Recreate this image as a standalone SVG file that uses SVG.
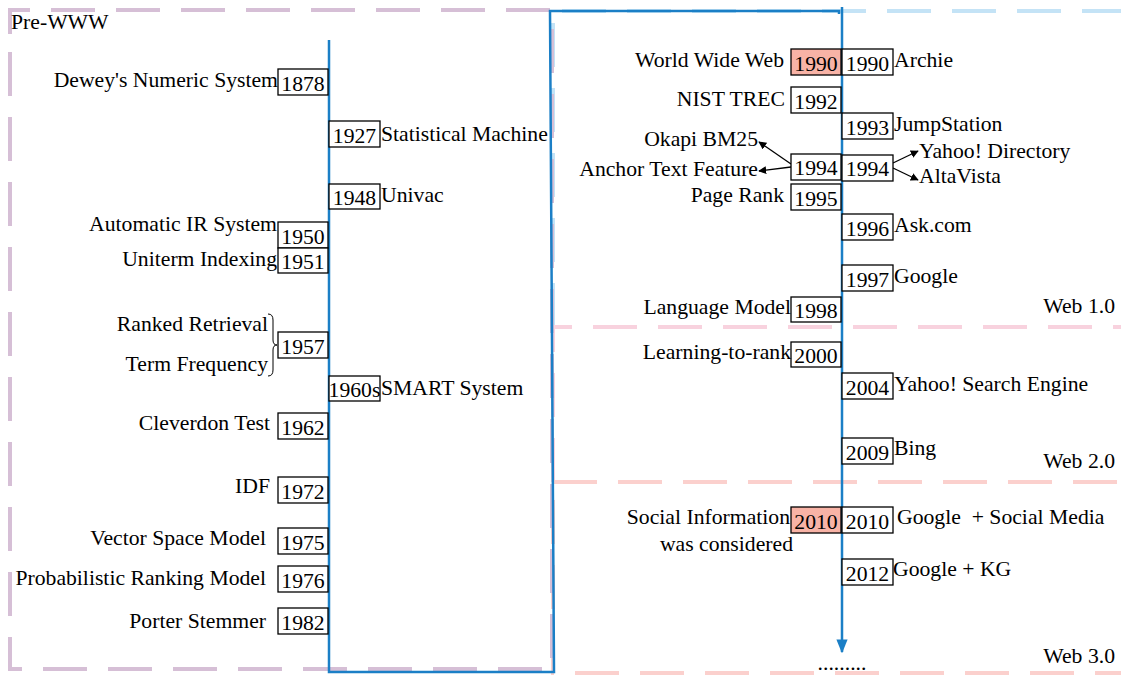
<svg xmlns="http://www.w3.org/2000/svg" width="1121" height="675" viewBox="0 0 1121 675">
<style>
text{font-family:"Liberation Serif","Times New Roman",serif;font-size:21.7px;fill:#000}
.r{text-anchor:end}
.m{text-anchor:middle}
.box{fill:#fff;stroke:#000;stroke-width:1.3}
.hl{fill:#f8b3a6;stroke:#000;stroke-width:1.3}
.reg{fill:none;stroke-width:4;stroke-dasharray:44 21}
.ax{fill:none;stroke:#1b7fc6;stroke-width:2.5}
.ar{stroke:#000;stroke-width:1.3;fill:none;marker-end:url(#ah)}
</style>
<defs>
<marker id="ah" viewBox="0 0 10 10" refX="9" refY="5" markerWidth="8" markerHeight="8" markerUnits="userSpaceOnUse" orient="auto"><path d="M0,0 L10,5 L0,10 Z" fill="#000"/></marker>
<marker id="bh" viewBox="0 0 10 10" refX="9" refY="5" markerWidth="14" markerHeight="14" markerUnits="userSpaceOnUse" orient="auto"><path d="M0,1 L10,5 L0,9 Z" fill="#1b7fc6"/></marker>
</defs>
<g id="regions">
<path d="M553,327 V11 H1173" class="reg" stroke="#c4e3f6"/>
<path d="M553,482 V327 H1173" class="reg" stroke="#f8d2de"/>
<rect x="553" y="482" width="620" height="191" class="reg" stroke="#fbd0cd"/>
<path d="M10,34 V10 H552 V669 H10 Z" class="reg" stroke="#d6bfd6"/>
<text x="11" y="29">Pre-WWW</text>
<text x="1115" y="313" class="r">Web 1.0</text>
<text x="1115" y="468" class="r">Web 2.0</text>
<text x="1115" y="663" class="r">Web 3.0</text>
</g>
<g id="connectors">
<path d="M329,40 V672 H554 L550,11 H839 V14" class="ax"/>
<line x1="842" y1="7" x2="842" y2="652" class="ax" marker-end="url(#bh)"/>
<line x1="791" y1="164" x2="759" y2="142" class="ar"/>
<line x1="791" y1="167" x2="759" y2="171" class="ar"/>
<line x1="893" y1="163" x2="918" y2="151" class="ar"/>
<line x1="893" y1="168" x2="918" y2="180" class="ar"/>
<path d="M268,314 Q273,314 273,320 V340 Q273,345 277,345 Q273,345 273,350 V370 Q273,376 268,376" fill="none" stroke="#000" stroke-width="1"/>
</g>
<g id="n1878"><rect x="278" y="69" width="50" height="26" class="box"/><text x="303" y="91" class="m">1878</text><text x="278" y="87" class="r">Dewey's Numeric System</text></g>
<g id="n1927"><rect x="329" y="121" width="51" height="26" class="box"/><text x="354.5" y="143" class="m">1927</text><text x="381" y="141">Statistical Machine</text></g>
<g id="n1948"><rect x="329" y="184" width="51" height="25" class="box"/><text x="354.5" y="205" class="m">1948</text><text x="381" y="202">Univac</text></g>
<g id="n1950"><rect x="278" y="222" width="50" height="26" class="box"/><text x="303" y="244" class="m">1950</text><text x="277" y="231" class="r">Automatic IR System</text></g>
<g id="n1951"><rect x="278" y="248" width="50" height="25" class="box"/><text x="303" y="269" class="m">1951</text><text x="277" y="266" class="r">Uniterm Indexing</text></g>
<g id="n1957"><rect x="278" y="332" width="50" height="26" class="box"/><text x="303" y="354" class="m">1957</text><text x="268" y="331" class="r">Ranked Retrieval</text><text x="268" y="371" class="r">Term Frequency</text></g>
<g id="n1960s"><rect x="329" y="376" width="51" height="25" class="box"/><text x="354.5" y="397" class="m">1960s</text><text x="381" y="395">SMART System</text></g>
<g id="n1962"><rect x="278" y="413" width="50" height="26" class="box"/><text x="303" y="435" class="m">1962</text><text x="270" y="430" class="r">Cleverdon Test</text></g>
<g id="n1972"><rect x="278" y="477" width="50" height="26" class="box"/><text x="303" y="499" class="m">1972</text><text x="270" y="493" class="r">IDF</text></g>
<g id="n1975"><rect x="278" y="528" width="50" height="26" class="box"/><text x="303" y="550" class="m">1975</text><text x="266" y="545" class="r">Vector Space Model</text></g>
<g id="n1976"><rect x="278" y="566" width="50" height="26" class="box"/><text x="303" y="588" class="m">1976</text><text x="266" y="585" class="r">Probabilistic Ranking Model</text></g>
<g id="n1982"><rect x="278" y="608" width="50" height="26" class="box"/><text x="303" y="630" class="m">1982</text><text x="266" y="628" class="r">Porter Stemmer</text></g>
<g id="n1990w"><rect x="791" y="49" width="50" height="26" class="hl"/><text x="816" y="71" class="m">1990</text><text x="784" y="67" class="r">World Wide Web</text></g>
<g id="n1990a"><rect x="842" y="49" width="51" height="26" class="box"/><text x="867.5" y="71" class="m">1990</text><text x="894" y="67">Archie</text></g>
<g id="n1992"><rect x="791" y="87" width="50" height="26" class="box"/><text x="816" y="109" class="m">1992</text><text x="785" y="106" class="r">NIST TREC</text></g>
<g id="n1993"><rect x="842" y="113" width="51" height="26" class="box"/><text x="867.5" y="135" class="m">1993</text><text x="894" y="131">JumpStation</text></g>
<g id="n1994l"><rect x="791" y="154" width="50" height="26" class="box"/><text x="816" y="175" class="m">1994</text><text x="758" y="146" class="r">Okapi BM25</text><text x="758" y="176" class="r">Anchor Text Feature</text></g>
<g id="n1994r"><rect x="842" y="155" width="51" height="26" class="box"/><text x="867.5" y="176" class="m">1994</text><text x="919" y="158">Yahoo! Directory</text><text x="919" y="183">AltaVista</text></g>
<g id="n1995"><rect x="791" y="184" width="50" height="26" class="box"/><text x="816" y="206" class="m">1995</text><text x="784" y="202" class="r">Page Rank</text></g>
<g id="n1996"><rect x="842" y="214" width="51" height="26" class="box"/><text x="867.5" y="236" class="m">1996</text><text x="894" y="232">Ask.com</text></g>
<g id="n1997"><rect x="842" y="265" width="51" height="26" class="box"/><text x="867.5" y="287" class="m">1997</text><text x="894" y="283">Google</text></g>
<g id="n1998"><rect x="791" y="297" width="50" height="25" class="box"/><text x="816" y="318" class="m">1998</text><text x="791" y="314" class="r">Language Model</text></g>
<g id="n2000"><rect x="791" y="342" width="50" height="25" class="box"/><text x="816" y="363" class="m">2000</text><text x="791" y="359" class="r">Learning-to-rank</text></g>
<g id="n2004"><rect x="842" y="373" width="51" height="26" class="box"/><text x="867.5" y="395" class="m">2004</text><text x="894" y="391">Yahoo! Search Engine</text></g>
<g id="n2009"><rect x="842" y="438" width="51" height="26" class="box"/><text x="867.5" y="460" class="m">2009</text><text x="894" y="455">Bing</text></g>
<g id="n2010s"><rect x="791" y="507" width="50" height="26" class="hl"/><text x="816" y="529" class="m">2010</text><text x="790" y="524" class="r">Social Information</text><text x="793" y="551" class="r">was considered</text></g>
<g id="n2010g"><rect x="842" y="507" width="51" height="26" class="box"/><text x="867.5" y="529" class="m">2010</text><text x="897" y="524" xml:space="preserve">Google  + Social Media</text></g>
<g id="n2012"><rect x="842" y="559" width="51" height="26" class="box"/><text x="867.5" y="581" class="m">2012</text><text x="893" y="576">Google + KG</text></g>
<text x="842" y="670" class="m">.........</text>
</svg>
